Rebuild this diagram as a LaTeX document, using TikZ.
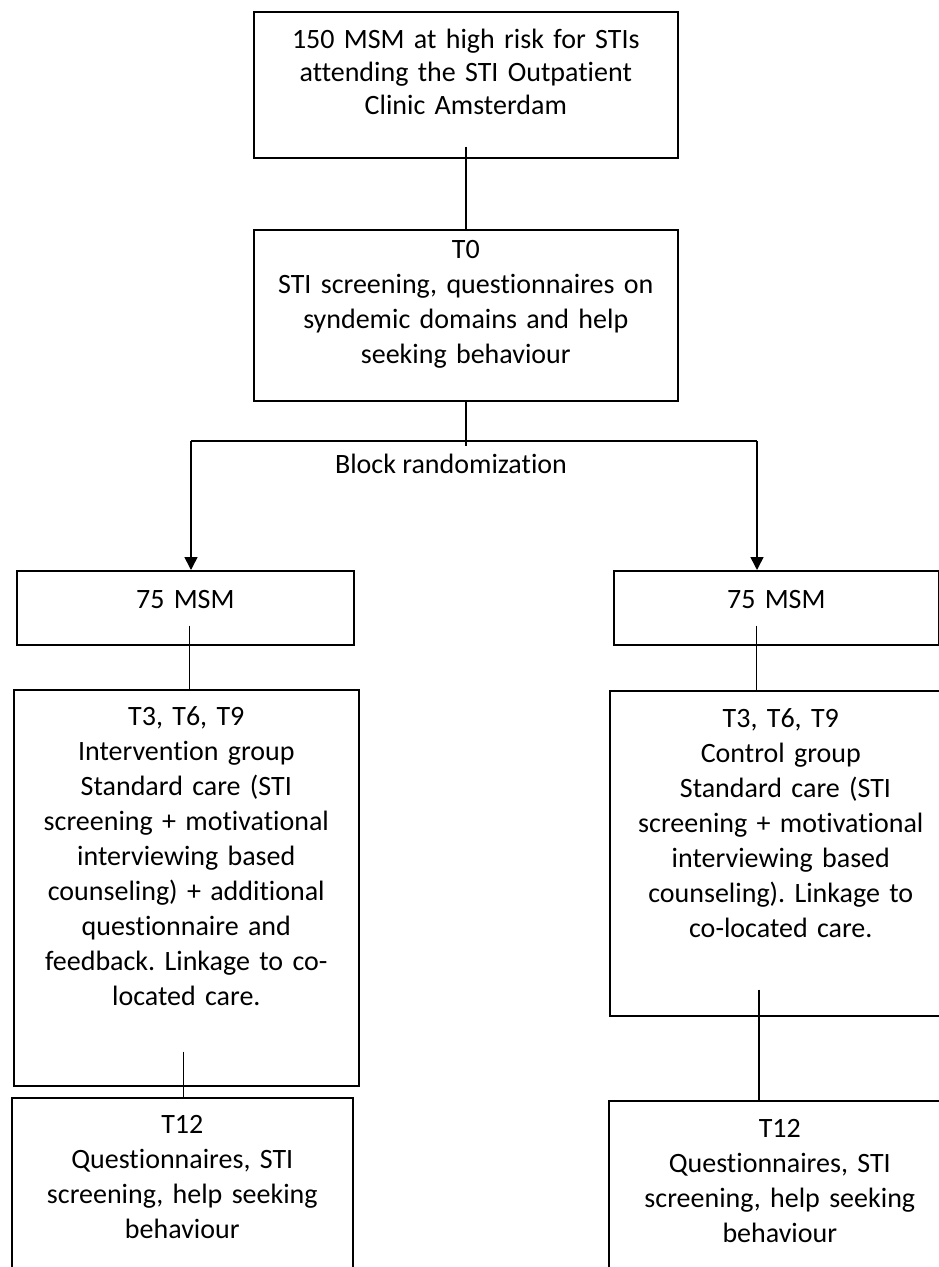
\documentclass[tikz,border=0pt]{standalone}
\usepackage{fontspec}
\setmainfont{Carlito}[Ligatures=NoCommon]
\frenchspacing
\usetikzlibrary{arrows.meta}
\tikzset{
  stagebox/.style={draw, line width=1.6pt, inner sep=0pt, anchor=north west,
    align=center, font=\fontsize{28}{35}\selectfont},
  link/.style={line width=1.6pt},
  arm/.style={line width=1.6pt, -{Triangle[length=13pt,width=13pt]}}
}
\begin{document}
\begin{tikzpicture}[x=1pt, y=-1pt]
  \useasboundingbox (0,0) rectangle (939,1267);
  \clip (0,0) rectangle (939,1267);
  % boxes
  \node[stagebox, text width=424pt, text height=37pt, text depth=109pt,
        font=\fontsize{28}{33}\selectfont] (pop) at (253,11)
    {150 MSM at high risk for STIs\\attending the STI Outpatient\\Clinic Amsterdam};
  \node[stagebox, text width=424pt, text height=29pt, text depth=142pt] (t0) at (253,229)
    {T0\\STI screening, questionnaires on\\syndemic domains and help\\seeking behaviour};
  \node[stagebox, text width=337pt, text height=38pt, text depth=36pt] (grpl) at (16,570)
    {75 MSM};
  \node[stagebox, text width=325pt, text height=38pt, text depth=36pt] (grpr) at (613,570)
    {75 MSM};
  \node[stagebox, text width=345pt, text height=36pt, text depth=360pt] (intv) at (13,689)
    {T3, T6, T9\\Intervention group\\Standard care (STI\\screening + motivational\\interviewing based\\counseling) + additional\\questionnaire and\\feedback. Linkage to co-\\located care.};
  \node[stagebox, text width=342pt, text height=37pt, text depth=288pt] (ctrl) at (609,690)
    {T3, T6, T9\\Control group\\\ Standard care (STI\\screening + motivational\\interviewing based\\counseling). Linkage to\\co-located care.};
  \node[stagebox, text width=341pt, text height=36pt, text depth=220pt] (endl) at (11,1097)
    {T12\\Questionnaires, STI\\screening, help seeking\\behaviour};
  \node[stagebox, text width=342pt, text height=37pt, text depth=220pt] (endr) at (608,1100)
    {T12\\Questionnaires, STI\\screening, help seeking\\behaviour};
  % randomization fork
  \coordinate (forkl) at (191,441);
  \coordinate (forkr) at (757,441);
  \node[anchor=base, inner sep=0pt, font=\fontsize{28}{35}\selectfont] (rand) at (451,473)
    {Block randomization};
  % connectors
  \draw[link] ([yshift=12pt]pop.south) -- (t0.north);
  \draw[link] (t0.south) -- ([yshift=-5pt]t0.south |- forkl);
  \draw[link] (forkl) -- (forkr);
  \draw[arm] (forkl) -- (forkl |- grpl.north);
  \draw[arm] (forkr) -- (forkr |- grpr.north);
  \draw[link] ([xshift=4pt,yshift=20pt]grpl.south) -- ([xshift=4pt]grpl.south |- intv.north);
  \draw[link] ([xshift=-20pt,yshift=20pt]grpr.south) -- ([xshift=-20pt]grpr.south |- ctrl.north);
  \draw[link] ([xshift=-3pt,yshift=35pt]intv.south) -- ([xshift=-3pt]intv.south |- endl.north);
  \draw[link] ([xshift=-22pt,yshift=27pt]ctrl.south) -- ([xshift=-22pt]ctrl.south |- endr.north);
\end{tikzpicture}
\end{document}
